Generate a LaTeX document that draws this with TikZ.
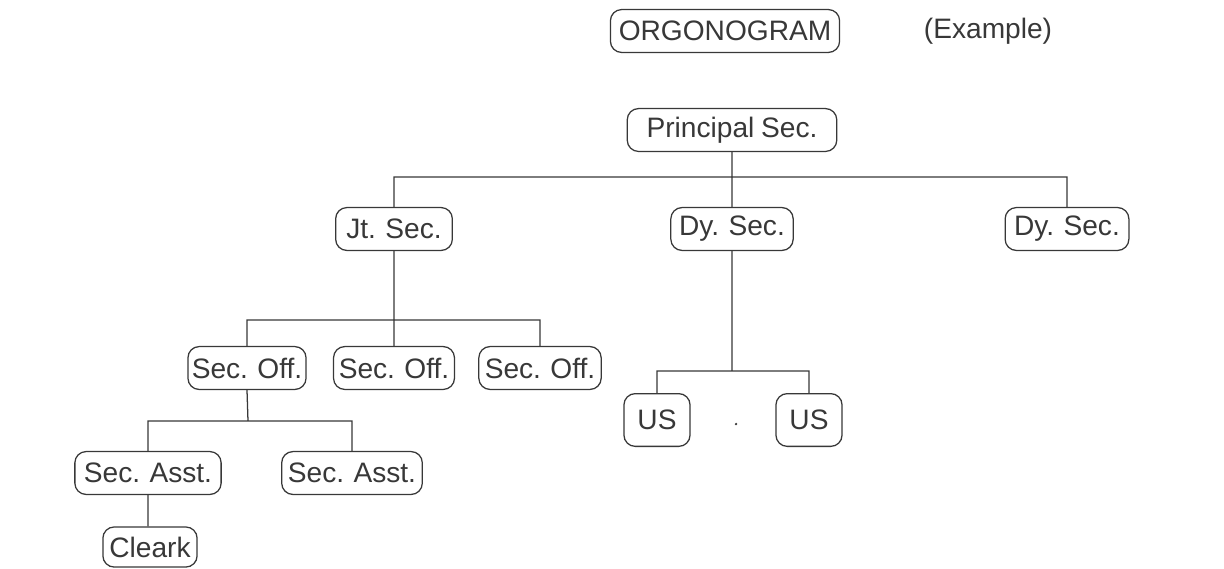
\documentclass[tikz,border=0pt]{standalone}
\usepackage{fontspec}
\setmainfont{Liberation Sans}
\usepackage{xcolor}
\usepackage{tikz}

\definecolor{ink}{HTML}{383838}

\begin{document}
\begin{tikzpicture}[
                x=0.025cm, y=-0.025cm,
                post/.style={draw=ink, line width=0.9pt, rounded corners=8pt,
                    text=ink, minimum height=30.5pt, inner sep=2pt,
                    font=\fontsize{20}{22}\selectfont,
                    execute at begin node={\spaceskip=0.24em\relax}},
                link/.style={draw=ink, line width=0.9pt}
            ]
                \useasboundingbox (0,0) rectangle (1224,568);

                % heading
                \node[post, minimum width=163pt] (title) at (725,31) {ORGONOGRAM};
                \node[text=ink, font=\fontsize{20}{22}\selectfont] (ex) at (988,31) {(Example)};

                % top levels
                \node[post, minimum width=149pt] (prin) at (732,130) {Principal Sec.};
                \node[post, minimum width=83pt] (jt) at (394,229) {Jt. Sec.};
                \node[post, minimum width=87pt] (dy1) at (732,229) {Dy. Sec.};
                \node[post, minimum width=88pt] (dy2) at (1067,229) {Dy. Sec.};

                % under Jt. Sec.
                \node[post, minimum width=84pt] (so1) at (247,368) {Sec. Off.};
                \node[post, minimum width=86pt] (so2) at (394,368) {Sec. Off.};
                \node[post, minimum width=87pt] (so3) at (540,368) {Sec. Off.};
                \node[post, minimum width=104pt] (sa1) at (148,473) {Sec. Asst.};
                \node[post, minimum width=100pt] (sa2) at (352,473) {Sec. Asst.};
                \node[post, minimum width=67pt, minimum height=28.5pt] (clk) at (150,547) {Cleark};

                % under Dy. Sec.
                \node[post, minimum width=47pt, minimum height=37.5pt] (us1) at (657,420) {US};
                \node[post, minimum width=47pt, minimum height=37.5pt] (us2) at (809,420) {US};
                \fill[ink] (736,424) circle (0.9pt);

                % bars
                \coordinate (barP) at (732,177);
                \coordinate (barJ) at (394,320);
                \coordinate (barS) at (248,421);
                \coordinate (barD) at (732,371);

                \path[link]
                (prin.south) -- (dy1.north)
                (jt.north) |- (barP) -| (dy2.north)

                (jt.south) -- (so2.north)
                (so1.north) |- (barJ) -| (so3.north)

                (so1.south) -- (barS)
                (sa1.north) |- (barS) -| (sa2.north)
                (sa1.south) -- (sa1.south |- clk.north)

                (dy1.south) -- (barD)
                (us1.north) |- (barD) -| (us2.north);
            \end{tikzpicture}
\end{document}
